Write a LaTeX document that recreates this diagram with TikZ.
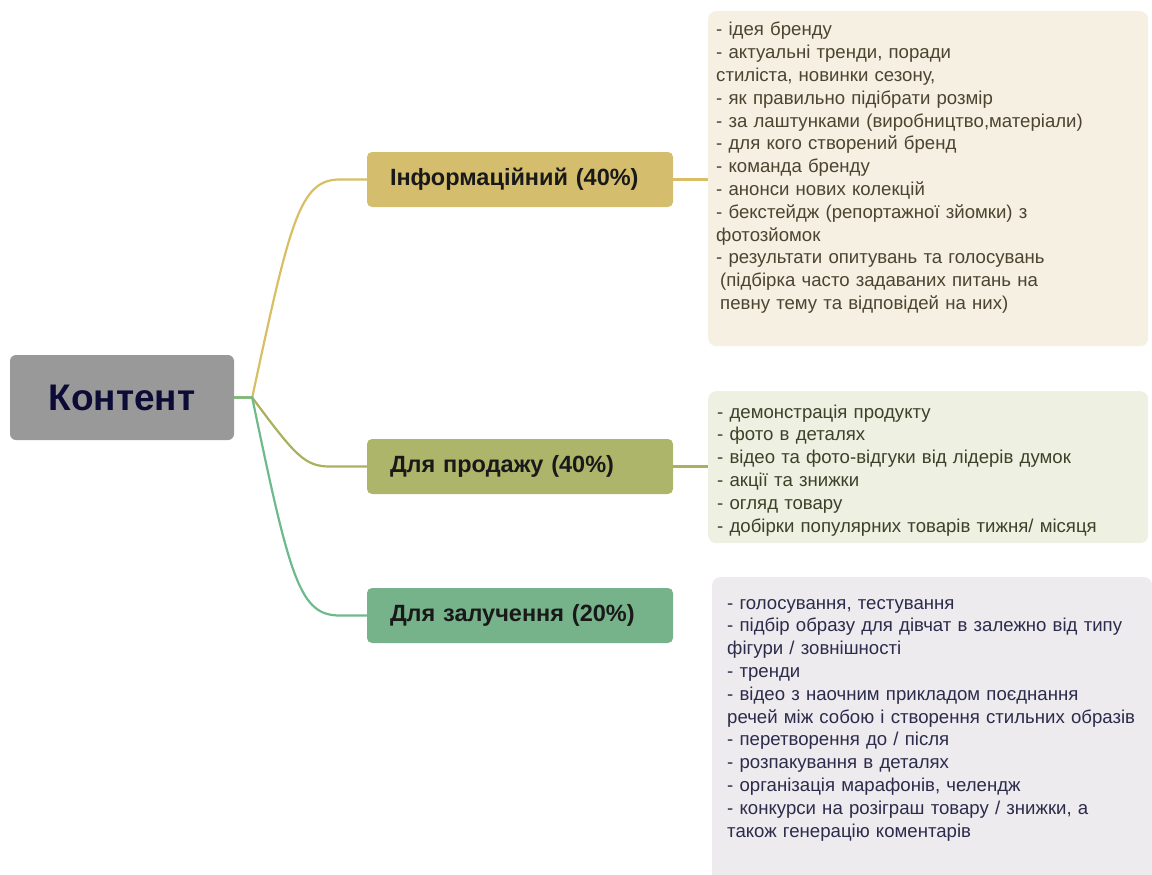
\documentclass[tikz,border=0pt]{standalone}
\usepackage{fontspec}
\setmainfont{Liberation Sans}
\usetikzlibrary{positioning}

\definecolor{rootfill}{HTML}{999999}
\definecolor{rootink}{HTML}{0B0B35}
\definecolor{infofill}{HTML}{D4BD6C}
\definecolor{salefill}{HTML}{ADB56B}
\definecolor{engfill}{HTML}{76B28A}
\definecolor{infoline}{HTML}{D8BF66}
\definecolor{saleline}{HTML}{AAB15C}
\definecolor{engline}{HTML}{6EBA8C}
\definecolor{infobg}{HTML}{F5F0E2}
\definecolor{salebg}{HTML}{EEF0E2}
\definecolor{engbg}{HTML}{EEEBEE}
\definecolor{infoink}{HTML}{4A4430}
\definecolor{saleink}{HTML}{3D4128}
\definecolor{engink}{HTML}{2B2B4B}

\begin{document}
\begin{tikzpicture}[x=1pt,y=-1pt,
  root node/.style={fill=rootfill,rounded corners=6pt,minimum width=224pt,minimum height=85pt,
    font=\fontsize{37}{42}\selectfont\bfseries,text=rootink},
  branch node/.style={rounded corners=5pt,minimum width=306pt,minimum height=55pt,text width=260pt,
    inner xsep=23pt,align=left,font=\fontsize{23.5}{27}\selectfont\bfseries,text=black!90},
  list box/.style={rounded corners=8pt,minimum width=440pt,anchor=north west,inner sep=0pt},
  list text/.style={anchor=base west,text width=430pt,align=left,inner sep=0pt,
    font=\fontsize{18.6}{22.8}\selectfont},
  link/.style={line width=2.2pt}]

  \useasboundingbox (0,0) rectangle (1152,875);

  \node[root node] (root) at (122,397.5) {Контент};
  \node[branch node,fill=infofill] (info) at (520,179.5) {Інформаційний (40\%)};
  \node[branch node,fill=salefill] (sale) at (520,466.5) {Для продажу (40\%)};
  \node[branch node,fill=engfill] (engage) at (520,615.5) {Для залучення (20\%)};

  \node[list box,fill=infobg,minimum height=335pt] (infobox) at (708,11) {};
  \node[list box,fill=salebg,minimum height=152pt] (salebox) at (708,391) {};
  \node[list box,fill=engbg,minimum height=310pt] (engbox) at (712,577) {};

  \node[list text,text=infoink] (infolist) at ([shift={(8,25)}]infobox.north west) {%
    - ідея бренду\\
    - актуальні тренди, поради\\
    стиліста, новинки сезону,\\
    - як правильно підібрати розмір\\
    - за лаштунками (виробництво,матеріали)\\
    - для кого створений бренд\\
    - команда бренду\\
    - анонси нових колекцій\\
    - бекстейдж (репортажної зйомки) з\\
    фотозйомок\\
    - результати опитувань та голосувань\\
    \hspace*{4pt}(підбірка часто задаваних питань на\\
    \hspace*{4pt}певну тему та відповідей на них)};
  \node[list text,text=saleink] (salelist) at ([shift={(9,27)}]salebox.north west) {%
    - демонстрація продукту\\
    - фото в деталях\\
    - відео та фото-відгуки від лідерів думок\\
    - акції та знижки\\
    - огляд товару\\
    - добірки популярних товарів тижня/ місяця};
  \node[list text,text=engink] (englist) at ([shift={(15,32)}]engbox.north west) {%
    - голосування, тестування\\
    - підбір образу для дівчат в залежно від типу\\
    фігури / зовнішності\\
    - тренди\\
    - відео з наочним прикладом поєднання\\
    речей між собою і створення стильних образів\\
    - перетворення до / після\\
    - розпакування в деталях\\
    - організація марафонів, челендж\\
    - конкурси на розіграш товару / знижки, а\\
    також генерацію коментарів};

  % branches from the root
  \coordinate (hub) at ([xshift=18pt]root.east);
  \draw[link,infoline] (root.east) -- (hub)
    .. controls +(38,-177) and +(-40,0) .. ([xshift=-27pt]info.west) -- (info.west);
  \draw[link,saleline] (root.east) -- (hub)
    .. controls +(43,58) and +(-25,0) .. ([xshift=-37pt]sale.west) -- (sale.west);
  \draw[link,engline] (root.east) -- (hub)
    .. controls +(38,183) and +(-40,0) .. ([xshift=-27pt]engage.west) -- (engage.west);

  % branches to the lists
  \draw[link,infoline] (info.east) -- (info.east -| infobox.west);
  \draw[link,saleline] (sale.east) -- (sale.east -| salebox.west);
\end{tikzpicture}
\end{document}
